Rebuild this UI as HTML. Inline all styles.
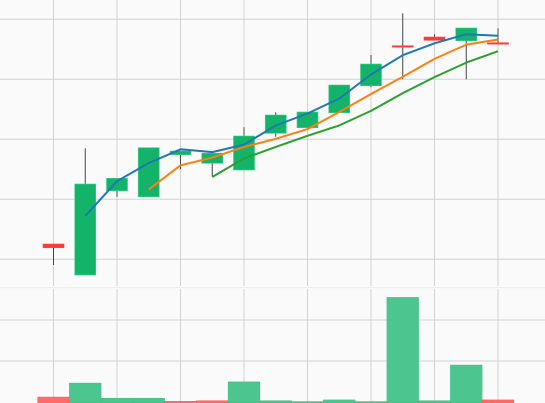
<!DOCTYPE html>
<html><head><meta charset="utf-8">
<style>
html,body{margin:0;padding:0;background:#fafafa;}
svg{display:block;font-family:"Liberation Sans",sans-serif;}
</style></head>
<body>
<svg id="chart" width="545" height="403" viewBox="0 0 545 403" xmlns="http://www.w3.org/2000/svg">
<rect x="0" y="0" width="545" height="403" fill="#fafafa"/>
<g id="grid"></g>
<g id="vol"></g>
<g id="candles"></g>
<g id="ma"></g>
</svg>
<script>
const opens  = [12.55, 7.38, 21.43, 20.43, 27.43, 26.0, 24.88, 31.0, 31.93, 34.43, 38.93, 45.6, 47.05, 46.43, 46.1];
const closes = [11.93, 22.55, 23.5, 28.6, 28.05, 27.67, 30.55, 34.05, 34.55, 39.05, 42.55, 45.5, 46.5, 48.55, 46.0];
const highs  = [12.55, 28.5, 23.5, 28.6, 28.05, 27.67, 32.0, 34.5, 34.55, 39.05, 44.05, 51.0, 47.5, 48.55, 48.5];
const lows   = [9.05, 7.38, 20.43, 20.43, 25.0, 23.77, 24.88, 30.43, 31.93, 34.43, 38.67, 40.0, 46.5, 40.0, 46.0];
const volumes = [1.2, 4.6, 0.9, 0.9, 0.15, 0.3, 4.9, 0.3, 0.1, 0.5, 0.1, 25.5, 0.3, 9.0, 0.5];
const maPeriods = [2, 4, 6];
const maColors = ['#1f77b4', '#ff7f0e', '#2ca02c'];
const priceGrid = [10, 20, 30, 40, 50];
const volGrid = [10, 20];

const NS = 'http://www.w3.org/2000/svg';
const X0 = 53.5, DX = 31.75;
function xPos(i){ return X0 + i*DX; }
function yPrice(p){ return 319.3 - 6*p; }
function yVol(v){ return 402 - v*4.1; }
function mk(tag, attrs, parent){
  const e = document.createElementNS(NS, tag);
  for (const k in attrs) e.setAttribute(k, attrs[k]);
  parent.appendChild(e); return e;
}
const grid = document.getElementById('grid');
// pane separator
let sep = mk('rect', {x:0, y:287, width:545, height:1.2, fill:'#efefef'}, grid);


priceGrid.forEach(p => {
  const l = mk('line', {x1:0, x2:545, y1:yPrice(p), y2:yPrice(p), stroke:'#d2d2d2', 'stroke-width':1}, grid);
  
  
});
volGrid.forEach(v => {
  const l = mk('line', {x1:0, x2:545, y1:yVol(v), y2:yVol(v), stroke:'#d2d2d2', 'stroke-width':1}, grid);
  
  
});
for (let i = 0; i < closes.length; i += 2) {
  const l1 = mk('line', {x1:xPos(i), x2:xPos(i), y1:0, y2:286, stroke:'#d2d2d2', 'stroke-width':1}, grid);
  
  
  const l2 = mk('line', {x1:xPos(i), x2:xPos(i), y1:289, y2:403, stroke:'#d2d2d2', 'stroke-width':1}, grid);
  
  
}
// volume
const vol = document.getElementById('vol');
volumes.forEach((v, i) => {
  const up = i === 0 ? false : closes[i] >= closes[i-1];
  const y = yVol(v);
  const r = mk('rect', {x:xPos(i)-15.8, y:y, width:31.6, height:Math.max(403-y,0.5), fill: up ? '#4cc68e' : '#ff6b6b', stroke: up ? '#3fbf84' : '#ff5a5a', 'stroke-width':0.6}, vol);
  
  
});
// candles
const cg = document.getElementById('candles');
closes.forEach((c, i) => {
  const o = opens[i], up = c >= o;
  const x = xPos(i);
  const w = mk('line', {x1:x, x2:x, y1:yPrice(highs[i]), y2:yPrice(lows[i]), stroke:'#444', 'stroke-width':1}, cg);
  
  
  const top = yPrice(Math.max(o, c)), bot = yPrice(Math.min(o, c));
  const h = Math.max(bot - top, 1.5);
  const b = mk('rect', {x:x-10.5, y:top, width:21, height:h, fill: up ? '#13b46a' : '#ff3838', stroke: up ? '#3fcf8a' : '#ff4a4a', 'stroke-width':0.6}, cg);
  
  
});
// moving averages
const mg = document.getElementById('ma');
maPeriods.forEach((n, k) => {
  const pts = [];
  for (let i = n-1; i < closes.length; i++) {
    let s = 0; for (let j = i-n+1; j <= i; j++) s += closes[j];
    pts.push(xPos(i).toFixed(1) + ',' + yPrice(s/n).toFixed(1));
  }
  const pl = mk('polyline', {points: pts.join(' '), fill:'none', stroke: maColors[k], 'stroke-width':2, 'stroke-linejoin':'round'}, mg);
  
  
});
</script>
</body></html>
